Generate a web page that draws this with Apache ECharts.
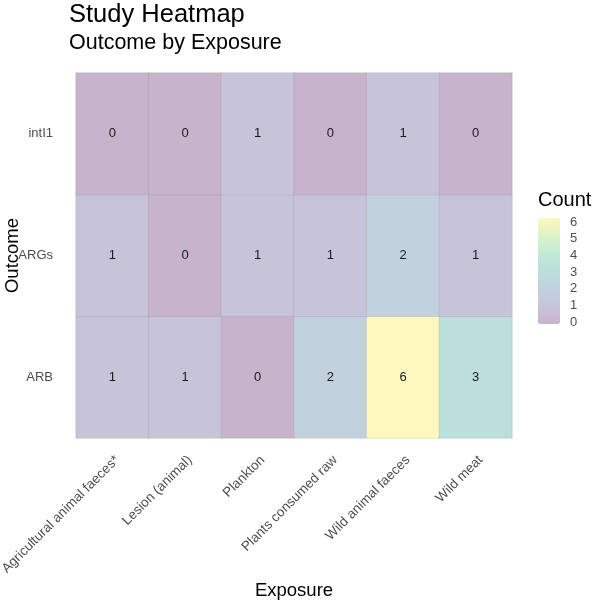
<!DOCTYPE html>
<html>
<head>
<meta charset="utf-8">
<script src="https://cdn.jsdelivr.net/npm/echarts@6/dist/echarts.min.js"></script>
<style>
html,body{margin:0;padding:0;background:#fff;}
#chart{width:597px;height:602px;}
</style>
</head>
<body>
<div id="chart"></div>
<script>
const exposures = ['Agricultural animal faeces*','Lesion (animal)','Plankton','Plants consumed raw','Wild animal faeces','Wild meat'];
const outcomes = ['ARB','ARGs','intI1'];
const countsARB  = [1,1,0,2,6,3];
const countsARGs = [1,0,1,1,2,1];
const countsIntI1 = [0,0,1,0,1,0];
const legendTicks = [0,1,2,3,4,5,6];

const rows = [countsARB, countsARGs, countsIntI1];
const data = [];
rows.forEach((r, yi) => r.forEach((v, xi) => data.push([xi, yi, v])));

const FONT = 'Liberation Sans, Arial, Helvetica, sans-serif';
const chart = echarts.init(document.getElementById('chart'), null, {renderer:'canvas'});
chart.setOption({
  animation: false,
  backgroundColor: '#ffffff',
  textStyle: {fontFamily: FONT},
  title: [
    {text: 'Study Heatmap', left: 64, top: -3, textStyle: {fontSize: 25.5, fontWeight: 'normal', color: '#000', fontFamily: FONT}},
    {text: 'Outcome by Exposure', left: 64, top: 27, textStyle: {fontSize: 21.5, fontWeight: 'normal', color: '#000', fontFamily: FONT}},
    {text: 'Count', left: 533, top: 185, textStyle: {fontSize: 20, fontWeight: 'normal', color: '#000', fontFamily: FONT}}
  ],
  grid: [
    {left: 76, top: 73, width: 436, height: 365, containLabel: false, outerBoundsMode: 'none'},
    {left: 538, top: 222, width: 22, height: 100, containLabel: false, outerBoundsMode: 'none'}
  ],
  xAxis: [
    {type: 'category', data: exposures, gridIndex: 0,
     axisLine: {show: false}, axisTick: {show: false}, splitLine: {show: false},
     axisLabel: {rotate: 45, margin: 15, verticalAlign: 'top', color: '#4d4d4d', fontSize: 13.5, fontFamily: FONT, interval: 0},
     name: 'Exposure', nameLocation: 'middle', nameGap: 143, nameMoveOverlap: false,
     nameTextStyle: {fontSize: 18.5, color: '#000', fontFamily: FONT}},
    {type: 'value', gridIndex: 1, show: false, min: 0, max: 1}
  ],
  yAxis: [
    {type: 'category', data: outcomes, gridIndex: 0,
     axisLine: {show: false}, axisTick: {show: false}, splitLine: {show: false},
     axisLabel: {margin: 23, color: '#4d4d4d', fontSize: 13, fontFamily: FONT},
     name: 'Outcome', nameLocation: 'middle', nameGap: 54, nameMoveOverlap: false,
     nameTextStyle: {fontSize: 18.5, color: '#000', fontFamily: FONT}},
    {type: 'value', gridIndex: 1, min: 0, max: 6, interval: 1, position: 'right',
     axisLine: {show: false}, axisTick: {show: false}, splitLine: {show: false},
     axisLabel: {margin: 10, color: '#4d4d4d', fontSize: 13, fontFamily: FONT,
       formatter: v => legendTicks.includes(v) ? String(v) : ''}}
  ],
  visualMap: {
    type: 'continuous', min: 0, max: 6, seriesIndex: 0, dimension: 2,
    calculable: false, showLabel: false, text: null, padding: 0,
    left: 538, top: 218, itemWidth: 22, itemHeight: 106, orient: 'vertical',
    inRange: {color: ['#c7b3cc','#c8bed6','#c6c7db','#c2cfdd','#bfd6dd','#bcdedc','#bde5da','#c7ecd4','#d7f1cb','#ebf5be','#fef8be']}
  },
  series: [
    {type: 'heatmap', xAxisIndex: 0, yAxisIndex: 0, data: data,
     itemStyle: {borderColor: 'rgba(140,140,140,0.35)', borderWidth: 0.6},
     label: {show: true, color: '#1a1a1a', fontSize: 13, fontFamily: FONT},
     emphasis: {disabled: true}},
    {type: 'scatter', xAxisIndex: 1, yAxisIndex: 1, data: [], silent: true}
  ]
});
</script>
</body>
</html>
